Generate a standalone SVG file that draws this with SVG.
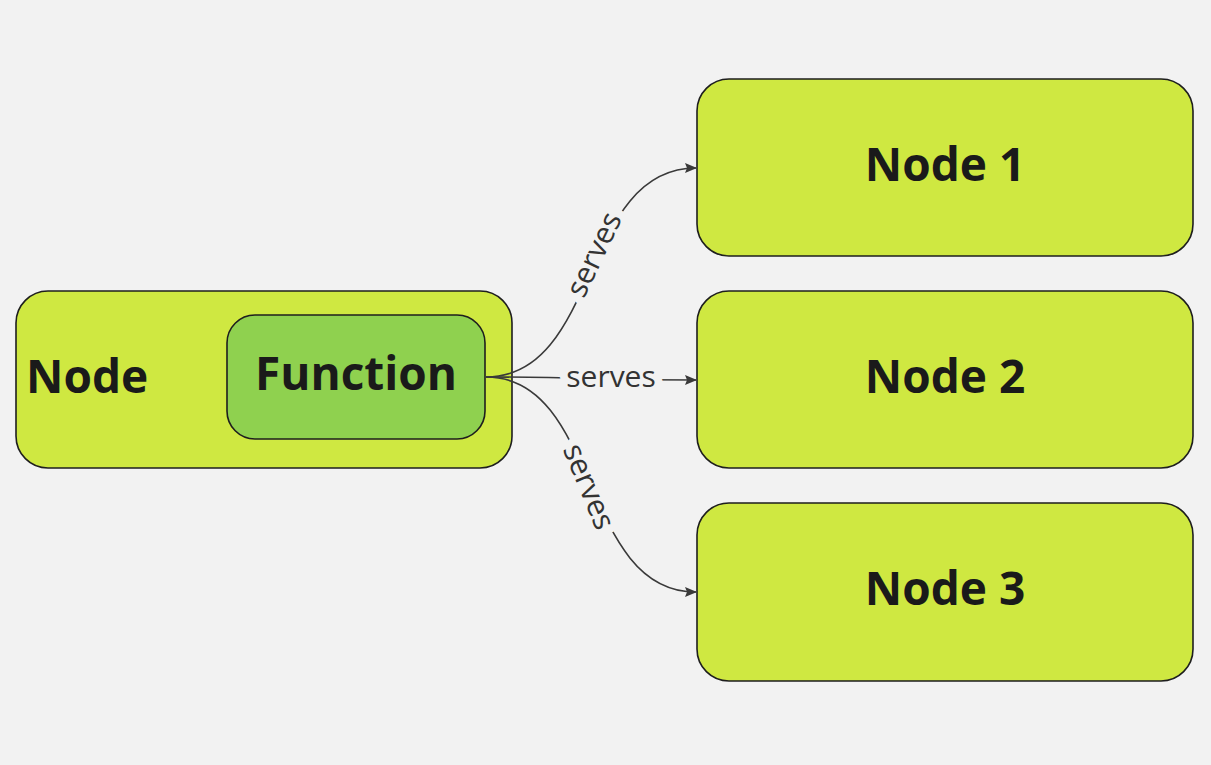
<svg xmlns="http://www.w3.org/2000/svg" width="1211" height="765" viewBox="0 0 1211 765">
<style>
.box{fill:#cfe841;stroke:#1e1e1e;stroke-width:1.6}
.fn{fill:#8fd14f;stroke:#1e1e1e;stroke-width:1.6}
.t{font-family:"Open Sans","Noto Sans","DejaVu Sans",sans-serif;font-weight:700;font-size:46px;fill:#1a1a1a}
.e{fill:none;stroke:#3a3a3a;stroke-width:1.6}
.lbl{font-family:"Open Sans","Noto Sans","DejaVu Sans",sans-serif;font-size:30px;fill:#333333;stroke:#f2f2f2;stroke-width:16;paint-order:stroke;stroke-linejoin:round}
</style>
<defs>
<marker id="ah" markerWidth="12" markerHeight="12" refX="11" refY="6" orient="auto" markerUnits="userSpaceOnUse">
<path d="M0,1 L12,6 L0,11 L2,6 z" fill="#3a3a3a"/>
</marker>
</defs>
<rect width="1211" height="765" fill="#f2f2f2"/>
<g id="node">
<rect class="box" x="16" y="291" width="496" height="177" rx="32"/>
<text class="t" x="26" y="393">Node</text>
</g>
<g id="function">
<rect class="fn" x="227" y="315" width="258" height="124" rx="28"/>
<text class="t" x="356" y="390" text-anchor="middle">Function</text>
</g>
<g id="node1">
<rect class="box" x="697" y="79" width="496" height="177" rx="32"/>
<text class="t" x="945" y="181" text-anchor="middle">Node 1</text>
</g>
<g id="node2">
<rect class="box" x="697" y="291" width="496" height="177" rx="32"/>
<text class="t" x="945" y="393" text-anchor="middle">Node 2</text>
</g>
<g id="node3">
<rect class="box" x="697" y="503" width="496" height="178" rx="32"/>
<text class="t" x="945" y="605" text-anchor="middle">Node 3</text>
</g>
<g id="connectors">
<path class="e" d="M486,377 C600,377 580,168 696,168" marker-end="url(#ah)"/>
<path class="e" d="M486,377 C590,377 590,380 696,380" marker-end="url(#ah)"/>
<path class="e" d="M486,377 C600,377 580,592 696,592" marker-end="url(#ah)"/>
<text class="lbl" transform="translate(595,255) rotate(-64.5)" x="0" y="9" text-anchor="middle">serves</text>
<text class="lbl" x="611" y="387" text-anchor="middle">serves</text>
<text class="lbl" transform="translate(588,487) rotate(67.5)" x="0" y="9" text-anchor="middle">serves</text>
</g>
</svg>
